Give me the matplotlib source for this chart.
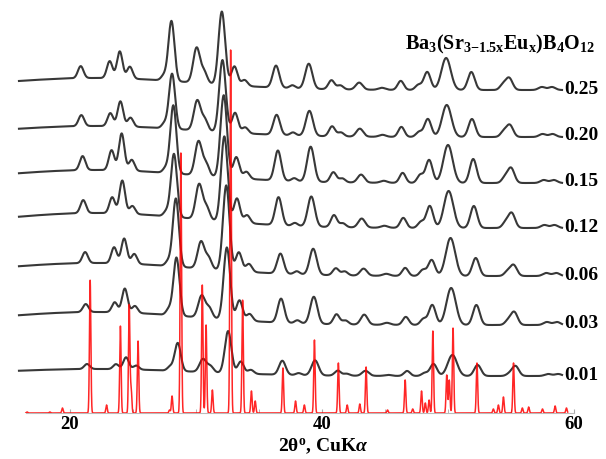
import numpy as np
import matplotlib.pyplot as plt

plt.rcParams['font.family'] = 'Liberation Serif'
plt.rcParams['font.weight'] = 'bold'
plt.rcParams['mathtext.fontset'] = 'custom'
plt.rcParams['mathtext.rm'] = 'Liberation Serif:bold'
plt.rcParams['mathtext.bf'] = 'Liberation Serif:bold'
plt.rcParams['mathtext.it'] = 'Liberation Serif:italic:bold'

# measured patterns: peak positions (2theta, deg, for x = 0.06) and widths
peak_pos = [21.2, 23.5, 24.3, 25.1, 27.8, 28.4, 30.4, 31.0, 32.4, 33.4, 34.2,
            36.7, 38.0, 39.3, 41.1, 41.8, 43.3, 45.1, 46.6, 48.0, 48.7, 50.2,
            52.2, 54.7, 55.2, 57.8, 58.6]
peak_sig = [0.22, 0.22, 0.22, 0.22, 0.22, 0.24, 0.27, 0.24, 0.26, 0.24, 0.24,
            0.26, 0.22, 0.28, 0.24, 0.24, 0.27, 0.27, 0.24, 0.24, 0.27, 0.37,
            0.27, 0.24, 0.27, 0.27, 0.27]

samples = ['0.01', '0.03', '0.06', '0.12', '0.15', '0.20', '0.25']
offsets = [37, 88, 137, 185, 230, 276, 323]
shift = [0.15, 0.05, 0.0, -0.15, -0.2, -0.3, -0.35]
bg_height = [7, 13, 13, 15, 13, 11, 12]

h_001 = [5, 5, 12, 4, 4, 28, 13, 6, 42, 12, 4, 14, 2, 15, 5, 2, 5, 1, 5, 3, 12, 21, 11, 2, 10, 2, 2]
h_003 = [8, 10, 24, 7, 6, 58, 22, 10, 72, 20, 7, 24, 3, 27, 10, 4, 10, 2, 8, 6, 20, 37, 20, 4, 13, 3, 3]
h_006 = [11, 16, 25, 10, 5, 68, 27, 11, 85, 19, 8, 20, 3, 26, 7, 4, 7, 2, 8, 6, 16, 38, 18, 4, 11, 3, 3]
h_012 = [13, 16, 33, 8, 5, 63, 35, 12, 85, 24, 8, 28, 3, 30, 12, 4, 9, 2, 10, 6, 22, 37, 22, 5, 15, 3, 3]
h_015 = [14, 20, 37, 11, 5, 68, 34, 12, 82, 21, 7, 30, 3, 35, 10, 4, 8, 2, 10, 8, 23, 38, 24, 5, 15, 3, 3]
h_020 = [11, 13, 25, 9, 5, 55, 30, 11, 72, 20, 6, 20, 3, 25, 10, 4, 8, 2, 10, 5, 18, 32, 18, 5, 12, 3, 3]
h_025 = [12, 17, 27, 12, 5, 60, 35, 11, 73, 19, 6, 22, 3, 25, 9, 4, 7, 2, 9, 5, 18, 32, 18, 5, 12, 3, 3]
heights = [h_001, h_003, h_006, h_012, h_015, h_020, h_025]

# reference card (red)
ref_pos = [16.6, 18.4, 19.4, 21.6, 22.9, 24.0, 24.7, 24.85, 25.4, 27.9, 28.1, 28.8,
           30.5, 30.8, 31.3, 32.75, 33.7, 34.4, 34.7, 36.9, 37.9, 38.6, 39.4,
           41.3, 42.0, 43.0, 43.5, 45.2, 46.6, 47.2, 47.9, 48.2, 48.5, 48.8,
           49.9, 50.1, 50.4, 52.3, 53.6, 54.0, 54.4, 55.2, 55.9, 56.4, 57.5,
           58.5, 59.4]
ref_int = [1, 1, 5, 133, 8, 87, 108, 25, 72, 3, 17, 260,
           128, 88, 23, 363, 113, 22, 12, 45, 12, 8, 73,
           50, 8, 9, 46, 3, 33, 4, 22, 10, 13, 82,
           38, 33, 85, 50, 4, 8, 16, 50, 5, 6, 4,
           7, 5]

fig = plt.figure(figsize=(6.06, 4.59), dpi=100)
ax = fig.add_axes([0, 46 / 459, 1, 413 / 459])

tt = np.linspace(15.95, 59.05, 3000)
for i, lab in enumerate(samples):
    y = offsets[i] + bg_height[i] * np.exp(-(tt - 22) ** 2 / (2 * 8 ** 2))
    for p, s, h in zip(peak_pos, peak_sig, heights[i]):
        y = y + h * np.exp(-(tt - p - shift[i]) ** 2 / (2 * s ** 2))
    ax.plot(tt, y, color='#383838', lw=1.5)
    ax.text(59.25, offsets[i] + 1, lab, va='center', ha='left', fontsize=14,
            fontweight='bold', clip_on=False)

tr = np.linspace(16.5, 59.5, 6000)
yr = np.zeros_like(tr)
for p, h in zip(ref_pos, ref_int):
    yr = yr + h * np.exp(-(tr - p) ** 2 / (2 * 0.055 ** 2))
ax.plot(tr, yr, color='#ff0000', lw=1.1, alpha=0.85, zorder=3)

ax.set_xlim(20 - 70 / 12.6, 20 + 536 / 12.6)
ax.set_ylim(0, 413)
for side in ['left', 'right', 'top']:
    ax.spines[side].set_visible(False)
ax.spines['bottom'].set_color('#bbbbbb')
ax.spines['bottom'].set_bounds(16.5, 60)
ax.set_yticks([])
ax.set_xticks(np.arange(20, 61, 5), minor=True)
ax.set_xticks([20, 40, 60])
ax.tick_params(axis='x', which='both', direction='in', length=3, color='#aaaaaa',
               labelsize=13.5, pad=2)
for t in ax.get_xticklabels():
    t.set_fontweight('bold')

fig.text(323 / 606, 2 / 459, r'2θ$^{\rm o}$, CuK$\mathit{\alpha}$', ha='center',
         va='bottom', fontsize=14, fontweight='bold')
fig.text(500 / 606, 1 - 44 / 459, r'$\mathrm{Ba_3(Sr_{3{-}1.5x}Eu_x)B_4O_{12}}$',
         ha='center', va='center', fontsize=14.5)

fig.savefig('out.png', dpi=100)
